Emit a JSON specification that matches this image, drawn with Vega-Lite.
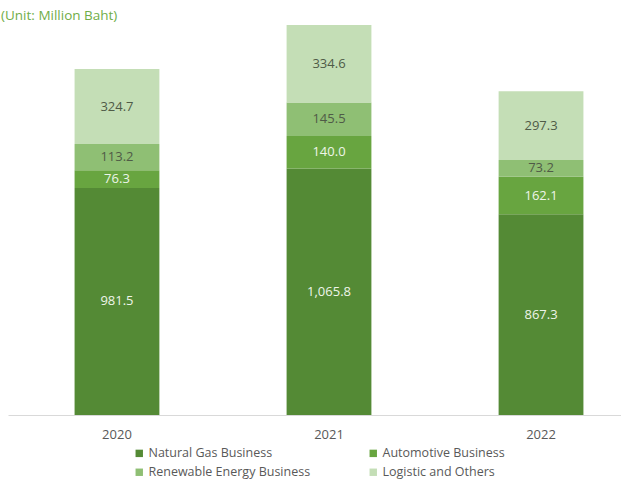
{
  "$schema": "https://vega.github.io/schema/vega-lite/v6.json",
  "autosize": "none",
  "width": 642,
  "height": 390,
  "padding": {"left": 8, "top": 25, "right": 0, "bottom": 65},
  "background": "white",
  "config": {"font": "Open Sans", "view": {"stroke": null}},
  "title": {"text": "(Unit: Million Baht)", "anchor": "start", "frame": "group", "dx": -7, "dy": 14, "offset": 6, "baseline": "alphabetic", "fontSize": 13.5, "fontWeight": "normal", "color": "#70ad47"},
  "data": {"values": [
    {"year": "2020", "segment": "Natural Gas Business", "k": 1, "value": 981.5},
    {"year": "2020", "segment": "Automotive Business", "k": 2, "value": 76.3},
    {"year": "2020", "segment": "Renewable Energy Business", "k": 3, "value": 113.2},
    {"year": "2020", "segment": "Logistic and Others", "k": 4, "value": 324.7},
    {"year": "2021", "segment": "Natural Gas Business", "k": 1, "value": 1065.8},
    {"year": "2021", "segment": "Automotive Business", "k": 2, "value": 140.0},
    {"year": "2021", "segment": "Renewable Energy Business", "k": 3, "value": 145.5},
    {"year": "2021", "segment": "Logistic and Others", "k": 4, "value": 334.6},
    {"year": "2022", "segment": "Natural Gas Business", "k": 1, "value": 867.3},
    {"year": "2022", "segment": "Automotive Business", "k": 2, "value": 162.1},
    {"year": "2022", "segment": "Renewable Energy Business", "k": 3, "value": 73.2},
    {"year": "2022", "segment": "Logistic and Others", "k": 4, "value": 297.3}
  ]},
  "transform": [
    {"stack": "value", "groupby": ["year"], "sort": [{"field": "k", "order": "ascending"}], "as": ["v0", "v1"]},
    {"calculate": "(datum.v0 + datum.v1) / 2", "as": "mid"}
  ],
  "encoding": {
    "x": {"field": "year", "type": "nominal", "scale": {"paddingInner": 0.6, "paddingOuter": 0.314},
      "axis": {"title": null, "labelAngle": 0, "ticks": false, "domainColor": "#d9d9d9", "labelPadding": 13, "labelFontSize": 13, "labelColor": "#595959"}}
  },
  "layer": [
    {
      "mark": {"type": "bar"},
      "encoding": {
        "y": {"field": "v0", "type": "quantitative", "scale": {"domain": [0, 1685.9], "nice": false}, "axis": null},
        "y2": {"field": "v1"},
        "color": {"field": "segment", "type": "nominal",
          "scale": {"domain": ["Natural Gas Business", "Automotive Business", "Renewable Energy Business", "Logistic and Others"],
                    "range": ["#548a35", "#68a540", "#8fbf74", "#c4deb6"]},
          "legend": {"title": null, "orient": "none", "legendX": 125, "legendY": 422, "columns": 2, "direction": "horizontal", "symbolType": "square", "symbolSize": 55, "symbolStrokeWidth": 0, "labelFontSize": 12.5, "labelColor": "#595959", "labelLimit": 400, "columnPadding": 56, "rowPadding": 6, "labelOffset": 3}
        }
      }
    },
    {
      "mark": {"type": "text", "fontSize": 13, "baseline": "middle"},
      "encoding": {
        "y": {"field": "mid", "type": "quantitative"},
        "text": {"field": "value", "type": "quantitative", "format": ",.1f"},
        "color": {"condition": {"test": "datum.k <= 2", "value": "#eef5e9"}, "value": "#4f5b47"}
      }
    }
  ]
}
